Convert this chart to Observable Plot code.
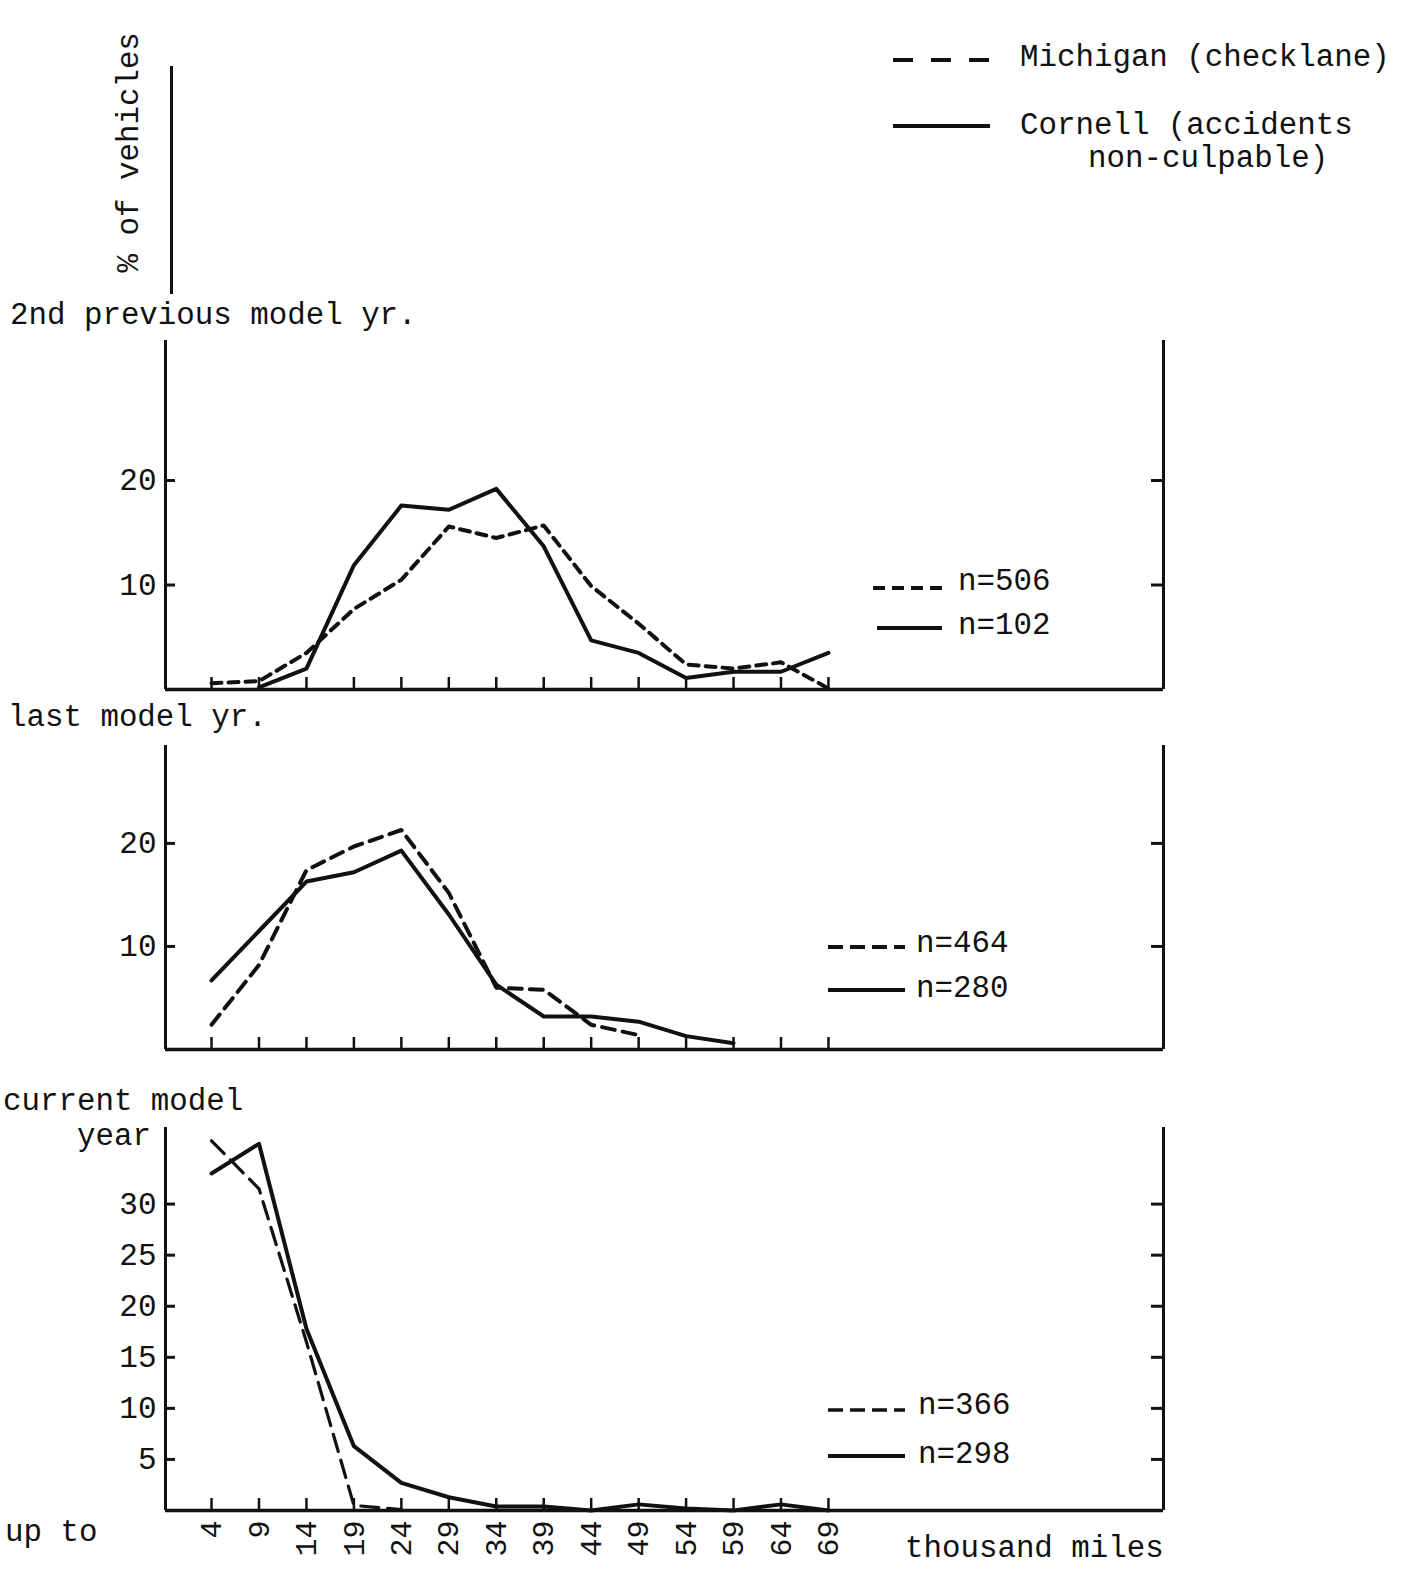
<!DOCTYPE html>
<html>
<head>
<meta charset="utf-8">
<script src="https://cdn.jsdelivr.net/npm/d3@7"></script>
<script src="https://cdn.jsdelivr.net/npm/@observablehq/plot@0.6"></script>
<style>
  html, body { margin: 0; padding: 0; background: #fff; }
  #page { position: relative; width: 1412px; height: 1572px; overflow: hidden; background: #fff;
          font-family: "Liberation Mono", "DejaVu Sans Mono", monospace; color: #111; }
  .t { position: absolute; white-space: pre; font-size: 30px; line-height: 30px; }
  .abs { position: absolute; }
</style>
</head>
<body>
<div id="page"></div>
<script>
// ---------------- DATA ----------------
const miles = [4, 9, 14, 19, 24, 29, 34, 39, 44, 49, 54, 59, 64, 69];
const mileLabels = ["4", "9", "14", "19", "24", "29", "34", "39", "44", "49", "54", "59", "64", "69"];

// 2nd previous model yr.
const prev2Michigan = [0.6, 0.8, 3.5, 7.7, 10.5, 15.6, 14.5, 15.7, 9.9, 6.3, 2.4, 2.0, 2.6, 0.1];
const prev2Cornell  = [null, 0.2, 2.0, 11.9, 17.6, 17.2, 19.2, 13.7, 4.7, 3.5, 1.1, 1.7, 1.7, 3.5];
const prev2Ticks = [10, 20];
const prev2N = ["n=506", "n=102"];

// last model yr.
const lastMichigan = [2.4, 8.2, 17.4, 19.7, 21.3, 15.2, 6.0, 5.8, 2.4, 1.4, null, null, null, null];
const lastCornell  = [6.7, 11.5, 16.3, 17.2, 19.3, 13.1, 6.3, 3.2, 3.2, 2.7, 1.3, 0.6, null, null];
const lastTicks = [10, 20];
const lastN = ["n=464", "n=280"];

// current model year
const curMichigan = [36.2, 31.5, 16.5, 0.5, 0.1, null, null, null, null, null, null, null, null, null];
const curCornell  = [33.0, 35.9, 17.8, 6.3, 2.7, 1.3, 0.4, 0.4, 0.0, 0.6, 0.2, 0.0, 0.6, 0.0];
const curTicks = [5, 10, 15, 20, 25, 30];
const curN = ["n=366", "n=298"];

const seriesNames = ["Michigan (checklane)", "Cornell (accidents", "non-culpable)"];

// ---------------- LAYOUT ----------------
const page = document.getElementById("page");
const INK = "#111";
const FONT = '"Liberation Mono", "DejaVu Sans Mono", monospace';
const X0 = -0.85, X1 = 104.3;
const FS = 30.8;

function text(str, left, cy, size = FS, extra = "") {
  const d = document.createElement("div");
  d.className = "t";
  d.textContent = str;
  d.style.left = left + "px";
  d.style.top = (cy - size / 2) + "px";
  d.style.fontSize = size + "px";
  d.style.lineHeight = size + "px";
  if (extra) d.style.cssText += extra;
  page.appendChild(d);
  return d;
}

function sampleLine(x1, x2, y, dash, w) {
  const ns = "http://www.w3.org/2000/svg";
  const svg = document.createElementNS(ns, "svg");
  svg.setAttribute("width", x2 - x1 + 4);
  svg.setAttribute("height", 12);
  svg.classList.add("abs");
  svg.style.left = (x1 - 2) + "px";
  svg.style.top = (y - 6) + "px";
  const l = document.createElementNS(ns, "line");
  l.setAttribute("x1", 2); l.setAttribute("x2", x2 - x1 + 2);
  l.setAttribute("y1", 6); l.setAttribute("y2", 6);
  l.setAttribute("stroke", INK);
  l.setAttribute("stroke-width", w);
  if (dash) l.setAttribute("stroke-dasharray", dash);
  svg.appendChild(l);
  page.appendChild(svg);
}

function panel({top, yMax, yTicks, michigan, cornell, dash, dashW, showX, marginBottom}) {
  const marginTop = 10;
  const data = miles.map((m, i) => ({m, mi: michigan[i], co: cornell[i]}));
  const pxPerUnit = top.pxPerUnit;
  const innerH = yMax * pxPerUnit;
  const height = Math.round(marginTop + innerH + marginBottom);
  const xPx = 998 / (X1 - X0);
  const chart = Plot.plot({
    width: 1412,
    height,
    marginLeft: 165,
    marginRight: 249,
    marginTop,
    marginBottom,
    x: {domain: [X0, X1], axis: null},
    y: {domain: [0, yMax], axis: null},
    style: {fontFamily: FONT, fontSize: FS + "px", color: INK, background: "transparent", overflow: "visible"},
    marks: [
      Plot.ruleX([X0], {y1: 0, y2: yMax, stroke: INK, strokeWidth: 3}),
      Plot.ruleX([X1], {y1: 0, y2: yMax, stroke: INK, strokeWidth: 3}),
      Plot.ruleY([0], {x1: X0, x2: X1, stroke: INK, strokeWidth: 3.5}),
      Plot.ruleY(yTicks, {x1: X0, x2: X0 + 10 / xPx, stroke: INK, strokeWidth: 3}),
      Plot.ruleY(yTicks, {x1: X1 - 12 / xPx, x2: X1, stroke: INK, strokeWidth: 3}),
      Plot.ruleX(miles, {y1: 0, y2: 12 / pxPerUnit, stroke: INK, strokeWidth: 2.5}),
      Plot.axisY({ticks: yTicks, tickSize: 0, tickPadding: 9, label: null, fontSize: 31}),
      showX ? Plot.axisX({ticks: miles, tickFormat: (d) => mileLabels[miles.indexOf(d)], tickRotate: -90,
                          tickSize: 0, tickPadding: 10, label: null, fontSize: 30}) : null,
      Plot.line(data, {x: "m", y: "mi", stroke: INK, strokeWidth: dashW, strokeDasharray: dash,
                       strokeLinejoin: "round"}),
      Plot.line(data, {x: "m", y: "co", stroke: INK, strokeWidth: 4, strokeLinejoin: "round",
                       strokeLinecap: "round"})
    ]
  });
  chart.classList.add("abs");
  chart.style.left = "0px";
  chart.style.top = (top.y - marginTop) + "px";
  page.appendChild(chart);
}

// ---- header ----
text("% of vehicles", 130 - 120, 152, FS, "transform: rotate(-90deg); transform-origin: 120px 15.4px;");
const vline = document.createElement("div");
vline.className = "abs";
vline.style.cssText = "left:170px;top:66px;width:3px;height:228px;background:" + INK + ";";
page.appendChild(vline);

sampleLine(893, 990, 60, "20,18", 4);
text(seriesNames[0], 1020, 58);
sampleLine(893, 990, 126, null, 4);
text(seriesNames[1], 1020, 126);
text(seriesNames[2], 1088, 159);

// ---- panel 1 ----
text("2nd previous model yr.", 10, 316);
panel({top: {y: 340, pxPerUnit: 10.45}, yMax: 33.4, yTicks: prev2Ticks,
       michigan: prev2Michigan, cornell: prev2Cornell, dash: "10,7", dashW: 4,
       showX: false, marginBottom: 12});
sampleLine(873, 942, 588, "12,7", 4);
text(prev2N[0], 958, 582);
sampleLine(877, 942, 628, null, 4);
text(prev2N[1], 958, 626);

// ---- panel 2 ----
text("last model yr.", 8, 718);
panel({top: {y: 745, pxPerUnit: 10.3}, yMax: 29.5, yTicks: lastTicks,
       michigan: lastMichigan, cornell: lastCornell, dash: "13,8", dashW: 4,
       showX: false, marginBottom: 12});
sampleLine(828, 905, 947, "15,7", 4);
text(lastN[0], 916, 944);
sampleLine(828, 905, 990, null, 4);
text(lastN[1], 916, 989);

// ---- panel 3 ----
text("current model", 3, 1102);
text("year", 77, 1137);
panel({top: {y: 1127, pxPerUnit: 10.2}, yMax: 37.5, yTicks: curTicks,
       michigan: curMichigan, cornell: curCornell, dash: "18,9", dashW: 3.2,
       showX: true, marginBottom: 60});
sampleLine(828, 905, 1410, "15,7", 3.5);
text(curN[0], 918, 1406);
sampleLine(828, 905, 1456, null, 4);
text(curN[1], 918, 1455);

text("up to", 5, 1533);
text("thousand miles", 905, 1549);
</script>
</body>
</html>
